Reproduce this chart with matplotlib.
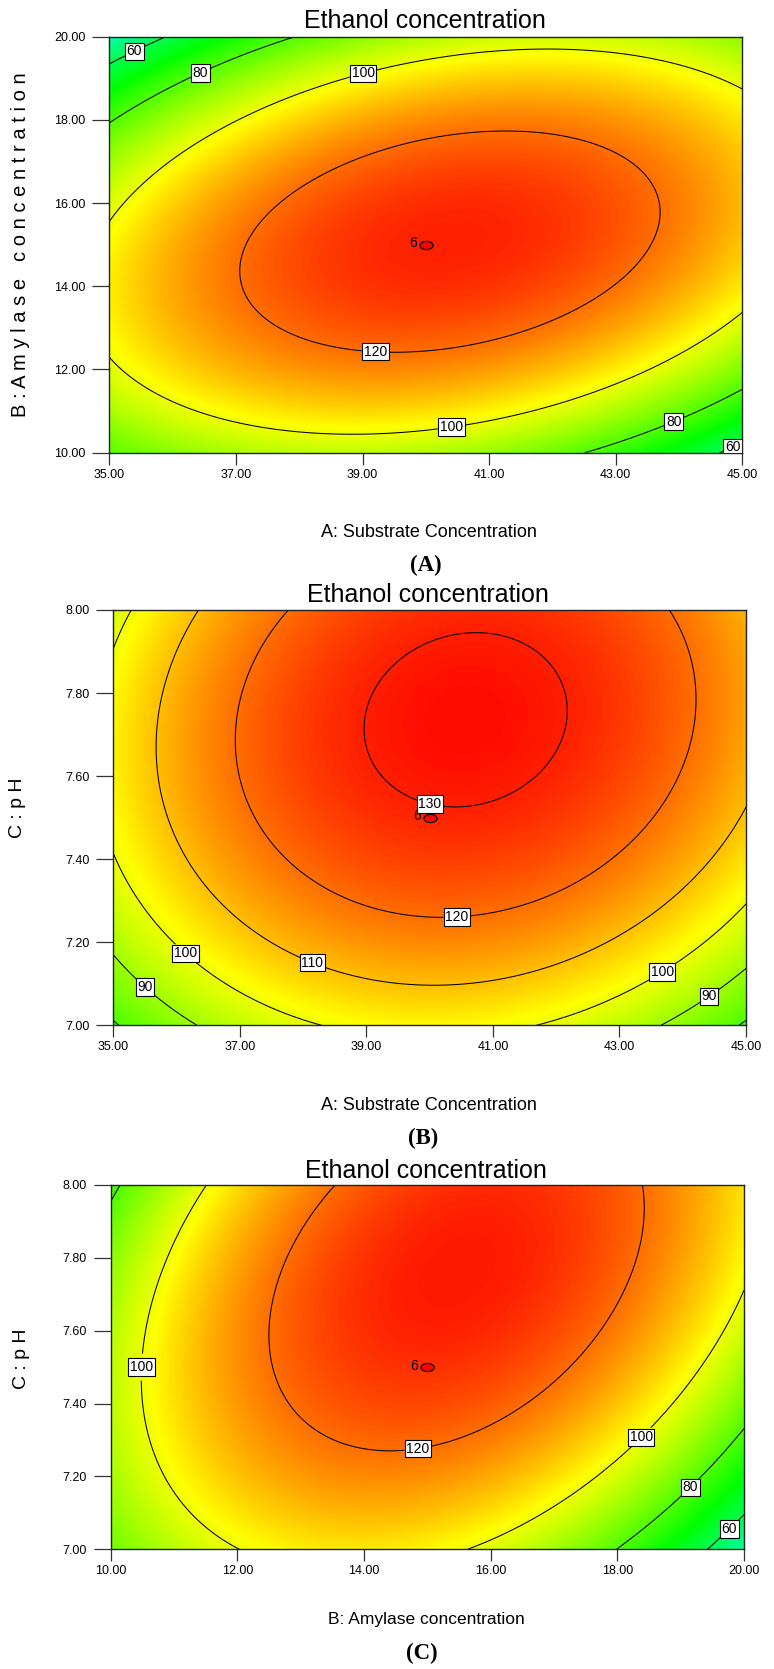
import numpy as np
import matplotlib
matplotlib.use("Agg")
import matplotlib.pyplot as plt
from matplotlib.colors import LinearSegmentedColormap
from matplotlib.path import Path
from matplotlib.transforms import Affine2D

plt.rcParams['font.family'] = ['Liberation Sans', 'DejaVu Sans']

# ---- contour points (x, y, contour level) ----
# (A) substrate vs amylase
A_X = [35.0, 35.96, 45.0, 44.73,
       35.0, 36.4, 38.01, 45.0, 43.88, 42.62,
       35.0, 38.99, 42.0, 45.0, 35.0, 39.27, 40.39, 45.0,
       37.08, 41.22, 43.70, 39.35, 39.59, 37.49, 42.96, 42.96, 41.38]
A_Y = [19.28, 20.0, 10.23, 10.0,
       17.88, 19.25, 20.0, 11.47, 10.89, 10.0,
       15.53, 19.24, 19.68, 18.77, 12.23, 10.41, 10.75, 13.35,
       14.31, 17.68, 15.75, 12.37, 17.36, 15.91, 16.96, 13.83, 12.87]
A_LV = [60, 60, 60, 60,
        80, 80, 80, 80, 80, 80,
        100, 100, 100, 100, 100, 100, 100, 100,
        120, 120, 120, 120, 120, 120, 120, 120, 120]

# (B) substrate vs pH
B_X = [35.0, 35.04, 44.93, 45.0,
       35.0, 35.55, 36.29, 45.0, 44.37, 43.69,
       35.0, 36.18, 38.21, 35.0, 35.29, 45.0, 43.63, 41.77,
       36.35, 35.66, 38.18, 39.53, 40.05, 45.0,
       37.78, 36.90, 39.53, 40.43, 43.75, 44.21,
       38.88, 42.21, 40.72, 40.43]
B_Y = [7.009, 7.0, 7.0, 7.009,
       7.167, 7.10, 7.0, 7.133, 7.08, 7.0,
       7.406, 7.18, 7.0, 7.904, 8.0, 7.286, 7.139, 7.0,
       8.0, 7.67, 7.163, 7.095, 7.093, 7.520,
       8.0, 7.679, 7.262, 7.265, 8.0, 7.775,
       7.70, 7.751, 7.944, 7.513]
B_LV = [80, 80, 80, 80,
        90, 90, 90, 90, 90, 90,
        100, 100, 100, 100, 100, 100, 100, 100,
        110, 110, 110, 110, 110, 110,
        120, 120, 120, 120, 120, 120,
        130, 130, 130, 130]

# (C) amylase vs pH
C_X = [10.0, 10.20, 20.0, 19.12, 18.02,
       20.0, 19.73, 19.45,
       11.51, 10.57, 10.49, 10.88, 11.41, 12.16, 20.0, 18.38, 17.41, 15.73,
       13.45, 12.37, 12.73, 14.41, 14.86, 16.36, 17.41, 18.52, 18.46]
C_Y = [7.94, 8.0, 7.318, 7.175, 7.0,
       7.091, 7.062, 7.0,
       8.0, 7.70, 7.50, 7.20, 7.108, 7.0, 7.689, 7.307, 7.154, 7.0,
       8.0, 7.584, 7.337, 7.245, 7.268, 7.437, 7.657, 7.904, 8.0]
C_LV = [80, 80, 80, 80, 80,
        60, 60, 60,
        100, 100, 100, 100, 100, 100, 100, 100, 100, 100,
        120, 120, 120, 120, 120, 120, 120, 120, 120]

A_LEVELS = [60, 80, 100, 120]
B_LEVELS = [80, 90, 100, 110, 120, 130]
C_LEVELS = [60, 80, 100, 120]

# centre point (6 replicates)
A_CENTER = (40.0, 15.0)
B_CENTER = (40.0, 7.5)
C_CENTER = (15.0, 7.5)
N_CENTER = 6

A_XTICKS = [35, 37, 39, 41, 43, 45]
A_YTICKS = [10, 12, 14, 16, 18, 20]
B_YTICKS = [7.0, 7.2, 7.4, 7.6, 7.8, 8.0]
C_XTICKS = [10, 12, 14, 16, 18, 20]

TITLE = 'Ethanol concentration'
A_XLABEL = 'A: Substrate Concentration'
A_YLABEL = 'B : A m y l a s e   c o n c e n t r a t i o n'
B_XLABEL = 'A: Substrate Concentration'
B_YLABEL = 'C : p H'
C_XLABEL = 'B: Amylase concentration'
C_YLABEL = 'C : p H'

# contour label positions (layout only)
A_LABPOS = [(35.36, 19.76), (44.81, 10.26), (36.4, 19.25), (43.88, 10.89),
            (38.99, 19.24), (40.39, 10.75), (39.2, 12.4)]
B_LABPOS = [(35.55, 7.10), (44.37, 7.08), (36.18, 7.18), (43.63, 7.139),
            (38.18, 7.163), (40.43, 7.265), (40.0, 7.53)]
C_LABPOS = [(10.49, 7.50), (18.38, 7.307), (14.86, 7.268), (19.12, 7.175),
            (19.73, 7.062)]


def fit_quad(x, y, lv, xr, yr):
    xc, xh = (xr[0] + xr[1]) / 2, (xr[1] - xr[0]) / 2
    yc, yh = (yr[0] + yr[1]) / 2, (yr[1] - yr[0]) / 2
    u = (np.asarray(x) - xc) / xh
    v = (np.asarray(y) - yc) / yh
    M = np.column_stack([np.ones_like(u), u, v, u * u, v * v, u * v])
    coef = np.linalg.lstsq(M, np.asarray(lv, float), rcond=None)[0]

    def f(X, Y):
        U = (X - xc) / xh
        V = (Y - yc) / yh
        return (coef[0] + coef[1] * U + coef[2] * V + coef[3] * U * U
                + coef[4] * V * V + coef[5] * U * V)
    return f


cmap = LinearSegmentedColormap.from_list(
    'dx', ['#0000ff', '#00ffff', '#00ff00', '#ffff00', '#ff0000'])
VMIN, VMAX = 6, 134

W, H = 774, 1669
fig = plt.figure(figsize=(W / 100, H / 100), dpi=100)


def ax_at(l, t, r, b):
    return fig.add_axes([l / W, 1 - b / H, (r - l) / W, (b - t) / H])


def ftext(x, y, s, **kw):
    fig.text(x / W, 1 - y / H, s, **kw)


ell = Path.unit_circle().transformed(Affine2D().scale(1.0, 0.62))


def panel(ax, px, py, lv, xr, yr, levels, labpos, center, xticks, yticks):
    f = fit_quad(px, py, lv, xr, yr)
    gx = np.linspace(xr[0], xr[1], 400)
    gy = np.linspace(yr[0], yr[1], 400)
    X, Y = np.meshgrid(gx, gy)
    Z = f(X, Y)
    ax.imshow(Z, origin='lower', extent=[xr[0], xr[1], yr[0], yr[1]],
              aspect='auto', cmap=cmap, vmin=VMIN, vmax=VMAX,
              interpolation='bilinear')
    cs = ax.contour(X, Y, Z, levels=levels, colors='black', linewidths=0.75)
    txts = ax.clabel(cs, fmt='%d', fontsize=10, inline=True,
                     inline_spacing=2, manual=labpos)
    for t in txts:
        t.set_rotation(0)
        t.set_bbox(dict(boxstyle='square,pad=0.12', fc='white',
                        ec='black', lw=0.8))
    ax.plot(center[0], center[1], marker=ell, ms=9.5, mfc='red',
            mec='black', mew=0.9, ls='none')
    ax.annotate(str(N_CENTER), center, xytext=(-6.5, 1),
                textcoords='offset points', ha='right', va='center',
                fontsize=10)
    ax.set_xlim(xr)
    ax.set_ylim(yr)
    ax.set_xticks(xticks)
    ax.set_yticks(yticks)
    ax.xaxis.set_major_formatter('{x:.2f}')
    ax.yaxis.set_major_formatter('{x:.2f}')
    ax.tick_params(axis='x', direction='out', length=8.5, width=0.9,
                   color='#333333', labelsize=9, pad=3)
    ax.tick_params(axis='y', direction='out', length=12.5, width=0.9,
                   color='#333333', labelsize=9, pad=4.5)
    for s in ax.spines.values():
        s.set_linewidth(1.0)
        s.set_color('#222222')


# (A)
axA = ax_at(109.3, 36.7, 742.3, 452.7)
panel(axA, A_X, A_Y, A_LV, (35, 45), (10, 20), A_LEVELS, A_LABPOS,
      A_CENTER, A_XTICKS, A_YTICKS)
ftext(425, 28, TITLE, ha='center', va='baseline', fontsize=18)
ftext(21, 245, A_YLABEL, ha='center', va='center', rotation=90, fontsize=14.5)
ftext(429, 532, A_XLABEL, ha='center', va='center', fontsize=13)
ftext(426, 565, '(A)', ha='center', va='center', fontsize=16.5,
      fontweight='bold', family='Liberation Serif')

# (B)
axB = ax_at(113.3, 610, 746, 1025.3)
panel(axB, B_X, B_Y, B_LV, (35, 45), (7, 8), B_LEVELS, B_LABPOS,
      B_CENTER, A_XTICKS, B_YTICKS)
ftext(428, 602, TITLE, ha='center', va='baseline', fontsize=18)
ftext(18, 808, B_YLABEL, ha='center', va='center', rotation=90, fontsize=14)
ftext(429, 1105, B_XLABEL, ha='center', va='center', fontsize=13)
ftext(423, 1138, '(B)', ha='center', va='center', fontsize=16.5,
      fontweight='bold', family='Liberation Serif')

# (C)
axC = ax_at(110.7, 1185, 744, 1549.3)
panel(axC, C_X, C_Y, C_LV, (10, 20), (7, 8), C_LEVELS, C_LABPOS,
      C_CENTER, C_XTICKS, B_YTICKS)
ftext(426, 1178, TITLE, ha='center', va='baseline', fontsize=18)
ftext(22, 1359, C_YLABEL, ha='center', va='center', rotation=90, fontsize=14)
ftext(426, 1619, C_XLABEL, ha='center', va='center', fontsize=12.5)
ftext(422, 1653, '(C)', ha='center', va='center', fontsize=16.5,
      fontweight='bold', family='Liberation Serif')

fig.savefig('out.png', dpi=100)
